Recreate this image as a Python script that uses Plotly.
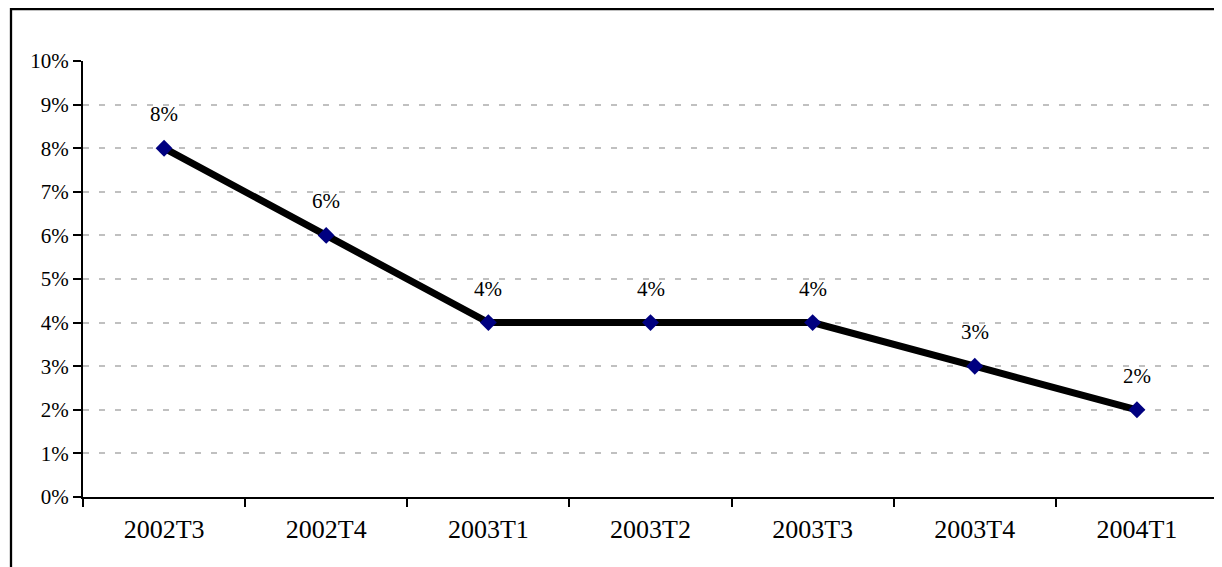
import plotly.graph_objects as go

categories = ["2002T3", "2002T4", "2003T1", "2003T2", "2003T3", "2003T4", "2004T1"]
values = [0.08, 0.06, 0.04, 0.04, 0.04, 0.03, 0.02]
labels = ["8%", "6%", "4%", "4%", "4%", "3%", "2%"]

W, H = 1222, 567
OFF = 8  # page body margin
ML, MR, MT, MB = 83 - OFF, 4 + OFF, 61 - OFF, 70 + OFF
PW, PH = W - ML - MR, H - MT - MB

FONT = "Liberation Serif, Times New Roman, serif"

fig = go.Figure()
fig.add_trace(go.Scatter(
    x=categories, y=values, mode="lines+markers",
    line=dict(color="black", width=7),
    marker=dict(symbol="diamond", size=13, color="#000080"),
    hoverinfo="skip",
))

for c, v, t in zip(categories, values, labels):
    fig.add_annotation(x=c, y=v, text=t, showarrow=False, yanchor="bottom",
                       yshift=20, font=dict(family=FONT, size=21, color="black"))

# outer chart border (extends past the cropped right/bottom edges)
fig.add_shape(type="rect", xref="paper", yref="paper",
              x0=(11 - OFF - ML) / PW, x1=(W + 20 - ML) / PW,
              y0=-(H + 20 - MT - PH) / PH, y1=(PH + MT - (9 - OFF)) / PH,
              line=dict(color="black", width=2.3), fillcolor="rgba(0,0,0,0)", layer="above")

fig.update_layout(
    width=W, height=H,
    margin=dict(l=ML, r=MR, t=MT, b=MB),
    paper_bgcolor="white", plot_bgcolor="white",
    showlegend=False,
    font=dict(family=FONT, color="black"),
)
fig.update_xaxes(
    type="category", range=[-0.5, 6.5],
    showline=True, linecolor="black", linewidth=2,
    ticks="outside", tickson="boundaries", ticklen=8, tickwidth=2, tickcolor="black",
    showgrid=False, tickfont=dict(family=FONT, size=26), ticklabelstandoff=8,
)
fig.update_yaxes(
    range=[0, 0.1], dtick=0.01, tickformat=".0%",
    showline=True, linecolor="black", linewidth=2,
    ticks="outside", ticklen=8, tickwidth=2, tickcolor="black",
    showgrid=True, gridcolor="#c0c0c0", gridwidth=2, griddash="6px,10px",
    zeroline=False, tickfont=dict(family=FONT, size=21),
)

fig.write_html("out.html")
